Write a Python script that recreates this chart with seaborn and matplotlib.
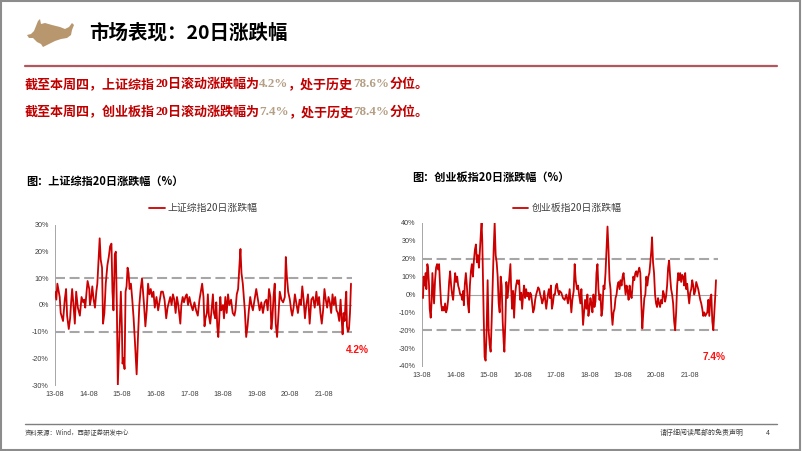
import numpy as np
import pandas as pd
import matplotlib
matplotlib.use("Agg")
import matplotlib.pyplot as plt
from matplotlib.patches import Polygon, Rectangle
from matplotlib.lines import Line2D
import seaborn as sns

# ---------------- data ----------------
sh_t = [2013.58, 2013.62, 2013.65, 2013.69, 2013.72, 2013.75, 2013.82, 2013.87, 2013.91, 2013.94,
        2013.99, 2014.03, 2014.06, 2014.09, 2014.13, 2014.17, 2014.21, 2014.26, 2014.32, 2014.37,
        2014.42, 2014.45, 2014.48, 2014.52, 2014.55, 2014.60, 2014.62, 2014.66, 2014.69, 2014.73,
        2014.77, 2014.81, 2014.84, 2014.88, 2014.91, 2014.94, 2014.98, 2015.01, 2015.05, 2015.09,
        2015.14, 2015.18, 2015.22, 2015.26, 2015.29, 2015.32, 2015.36, 2015.39, 2015.42, 2015.45,
        2015.48, 2015.51, 2015.54, 2015.57, 2015.59, 2015.62, 2015.65, 2015.68, 2015.71, 2015.74,
        2015.77, 2015.80, 2015.84, 2015.88, 2015.92, 2015.96, 2016.01, 2016.05, 2016.09, 2016.13,
        2016.17, 2016.20, 2016.23, 2016.27, 2016.31, 2016.35, 2016.39, 2016.43, 2016.47, 2016.51,
        2016.55, 2016.60, 2016.65, 2016.70, 2016.74, 2016.79, 2016.84, 2016.89, 2016.93, 2016.97,
        2017.01, 2017.05, 2017.09, 2017.13, 2017.17, 2017.21, 2017.25, 2017.31, 2017.34, 2017.38,
        2017.42, 2017.46, 2017.50, 2017.54, 2017.58, 2017.63, 2017.68, 2017.73, 2017.78, 2017.83,
        2017.88, 2017.96, 2018.00, 2018.03, 2018.06, 2018.10, 2018.13, 2018.16, 2018.20, 2018.24,
        2018.28, 2018.31, 2018.35, 2018.38, 2018.41, 2018.44, 2018.47, 2018.50, 2018.53, 2018.58,
        2018.61, 2018.65, 2018.69, 2018.73, 2018.77, 2018.82, 2018.87, 2018.92, 2018.95, 2018.99,
        2019.03, 2019.07, 2019.10, 2019.13, 2019.17, 2019.23, 2019.27, 2019.31, 2019.35, 2019.39,
        2019.43, 2019.47, 2019.52, 2019.57, 2019.62, 2019.67, 2019.72, 2019.77, 2019.82, 2019.87,
        2019.91, 2019.95, 2019.99, 2020.02, 2020.05, 2020.09, 2020.12, 2020.15, 2020.19, 2020.23,
        2020.27, 2020.32, 2020.37, 2020.42, 2020.45, 2020.48, 2020.52, 2020.57, 2020.61, 2020.64,
        2020.68, 2020.72, 2020.76, 2020.81, 2020.86, 2020.90, 2020.94, 2020.98, 2021.02, 2021.06,
        2021.11, 2021.16, 2021.21, 2021.26, 2021.31, 2021.36, 2021.40, 2021.44, 2021.48, 2021.52,
        2021.56, 2021.60, 2021.64, 2021.68, 2021.72, 2021.76, 2021.80, 2021.84, 2021.88, 2021.92,
        2021.96, 2022.00, 2022.04, 2022.08, 2022.11, 2022.14, 2022.17, 2022.20, 2022.23, 2022.25,
        2022.27, 2022.30, 2022.33, 2022.36, 2022.39]
sh_v = [5, 2, 8, 5, 3, -3, -6, 2, 6, -4,
        -9, -5, 1, 6, 0, -7, 5, -1, -4, 3,
        1, 2, -1, 5, 9, 6, 0, 3, 7, 2,
        -1, 5, 8, 18, 25, 17, 14, -7, -3, 8,
        15, 18, 22, 23, 5, -2, 19, 20, 0, -30,
        -18, -5, 5, -8, -22, -20, -24, 5, 7, 14,
        12, 6, 8, 2, -5, -14, -26, -12, 0, 6,
        10, 5, 0, -8, -2, 8, 4, 6, 3, 5,
        -1, 3, -2, 2, 5, 5, 2, -5, -1, 1,
        3, 0, 4, 2, -3, 3, 0, -7, 0, 3,
        1, 3, 4, 0, 3, 0, -2, 1, -2, -4,
        2, 8, 3, -8, -5, -3, 4, -4, -7, -2,
        4, -3, -5, 1, -8, -12, -5, 3, -2, 0,
        -5, 3, -3, 4, 0, 2, -3, -4, -2, 4,
        6, 15, 21, 12, 8, -2, -12, -8, -2, 3,
        0, -2, 2, 6, 2, -2, 1, -3, 1, 2,
        -2, 6, 3, -9, -5, 4, 8, -7, -12, -4,
        5, 2, 1, 3, 18, 11, 5, 2, -2, -4,
        -1, 4, 1, -3, 2, 0, 7, 2, -5, 0,
        4, -7, 2, 3, -1, 5, 0, 3, -3, -7,
        -2, 6, 2, -1, 3, 1, -3, 4, 0, 3,
        -2, -3, -6, 2, -5, -11, -3, -6, 2, 5,
        -8, -10, -9, -3, 8]

cy_t = [2013.61, 2013.63, 2013.66, 2013.69, 2013.71, 2013.74, 2013.76, 2013.79, 2013.81, 2013.84,
        2013.87, 2013.89, 2013.91, 2013.94, 2013.97, 2014.00, 2014.03, 2014.06, 2014.09, 2014.12,
        2014.15, 2014.18, 2014.21, 2014.24, 2014.27, 2014.30, 2014.33, 2014.36, 2014.39, 2014.42,
        2014.45, 2014.48, 2014.51, 2014.54, 2014.57, 2014.60, 2014.63, 2014.66, 2014.69, 2014.72,
        2014.75, 2014.78, 2014.81, 2014.83, 2014.86, 2014.89, 2014.92, 2014.95, 2014.98, 2015.01,
        2015.04, 2015.07, 2015.10, 2015.13, 2015.16, 2015.19, 2015.22, 2015.25, 2015.28, 2015.31,
        2015.34, 2015.36, 2015.38, 2015.40, 2015.42, 2015.45, 2015.48, 2015.51, 2015.54, 2015.57,
        2015.60, 2015.63, 2015.66, 2015.69, 2015.72, 2015.75, 2015.78, 2015.81, 2015.84, 2015.87,
        2015.90, 2015.93, 2015.96, 2015.99, 2016.02, 2016.04, 2016.07, 2016.10, 2016.13, 2016.16,
        2016.19, 2016.22, 2016.24, 2016.27, 2016.30, 2016.33, 2016.36, 2016.39, 2016.42, 2016.45,
        2016.48, 2016.51, 2016.54, 2016.57, 2016.60, 2016.63, 2016.66, 2016.69, 2016.72, 2016.75,
        2016.78, 2016.81, 2016.84, 2016.87, 2016.90, 2016.93, 2016.96, 2016.99, 2017.02, 2017.05,
        2017.08, 2017.11, 2017.14, 2017.17, 2017.20, 2017.23, 2017.26, 2017.29, 2017.31, 2017.34,
        2017.37, 2017.40, 2017.43, 2017.46, 2017.49, 2017.52, 2017.55, 2017.58, 2017.61, 2017.64,
        2017.67, 2017.69, 2017.74, 2017.79, 2017.84, 2017.89, 2017.94, 2017.99, 2018.04, 2018.07,
        2018.11, 2018.14, 2018.17, 2018.21, 2018.24, 2018.27, 2018.31, 2018.34, 2018.39, 2018.42,
        2018.45, 2018.49, 2018.52, 2018.55, 2018.58, 2018.61, 2018.64, 2018.67, 2018.70, 2018.73,
        2018.76, 2018.79, 2018.82, 2018.85, 2018.88, 2018.91, 2018.94, 2018.97, 2019.00, 2019.03,
        2019.06, 2019.09, 2019.12, 2019.15, 2019.18, 2019.21, 2019.24, 2019.27, 2019.30, 2019.33,
        2019.36, 2019.39, 2019.42, 2019.45, 2019.48, 2019.51, 2019.54, 2019.57, 2019.60, 2019.63,
        2019.66, 2019.69, 2019.72, 2019.75, 2019.78, 2019.81, 2019.84, 2019.87, 2019.89, 2019.92,
        2019.95, 2019.98, 2020.01, 2020.04, 2020.07, 2020.10, 2020.13, 2020.16, 2020.19, 2020.22,
        2020.25, 2020.28, 2020.31, 2020.34, 2020.37, 2020.40, 2020.43, 2020.45, 2020.48, 2020.51,
        2020.54, 2020.57, 2020.60, 2020.63, 2020.66, 2020.69, 2020.72, 2020.75, 2020.78, 2020.81,
        2020.84, 2020.87, 2020.90, 2020.93, 2020.96, 2020.99, 2021.02, 2021.05, 2021.08, 2021.11,
        2021.14, 2021.17, 2021.20, 2021.23, 2021.26, 2021.29, 2021.32, 2021.35, 2021.38, 2021.41,
        2021.44, 2021.47, 2021.50, 2021.53, 2021.56, 2021.59, 2021.62, 2021.65, 2021.68, 2021.71,
        2021.74, 2021.77, 2021.80, 2021.83, 2021.86, 2021.89, 2021.92, 2021.95, 2021.98, 2022.01,
        2022.04, 2022.07, 2022.10, 2022.13, 2022.16, 2022.19, 2022.22, 2022.25, 2022.28, 2022.31,
        2022.34, 2022.36]
cy_v = [-2, 10, 5, 12, 3, 17, 15, 5, -8, -13,
        -3, 12, 5, -5, 8, 15, 17, 14, 17, 5,
        -5, -9, -7, -9, -5, -10, -8, -3, 7, 13,
        5, 0, -3, 5, 12, 7, 10, 5, 3, 0,
        0, -3, 2, -6, 6, 12, 5, -5, -10, 5,
        13, 17, 10, 19, 25, 28, 18, 22, 15, 25,
        35, 40, 30, 10, -10, -35, -37, -20, 8, -20,
        -28, -32, -15, 5, 25, 40, 22, 18, 10, -5,
        -10, 10, 5, -15, -27, -32, -15, 7, -2, 3,
        10, 17, 5, -8, 2, -13, 0, 5, 8, 6,
        8, -3, 1, -8, 0, 5, -2, 3, -1, 1,
        -3, 1, 0, -5, -10, -8, -3, 0, 2, 4,
        3, 0, -2, -5, -3, 2, -3, -8, -5, 0,
        3, -2, 5, -8, -5, 0, 0, 5, 6, 2,
        0, 2, 1, -2, -3, 0, -5, 3, -10, -3,
        2, 17, 8, 3, 5, 0, -5, 3, -17, -10,
        -3, -8, 0, -12, -8, -2, -5, -10, 0, -7,
        -4, 12, 17, 3, -3, 0, -12, -8, 5, 3,
        12, 25, 38, 25, 8, 3, -10, -17, -10, -8,
        -2, 0, 5, 7, 3, 8, 5, 10, 12, 6,
        0, 5, 2, -3, 5, 0, -2, 5, 10, 8,
        12, 13, 10, 13, 15, 12, -5, -19, -10, -2,
        0, 10, 5, 10, 12, 18, 25, 32, 18, 12,
        0, -5, -7, -2, -5, -7, -3, -5, 2, 0,
        -4, -1, 5, 15, 19, 10, 3, 0, -5, -15,
        -20, -10, 5, 12, 8, 12, 7, 11, 10, 5,
        12, 3, 6, 0, -5, 1, 3, 8, 5, 0,
        2, 7, 5, 3, 0, -3, -5, -8, -12, -10,
        -12, -11, -10, -3, -12, -2, 0, -15, -20, -10,
        0, 8]

tick_years = [2013.58, 2014.58, 2015.58, 2016.58, 2017.58, 2018.58, 2019.58, 2020.58, 2021.58]
tick_labels = ["13-08", "14-08", "15-08", "16-08", "17-08", "18-08", "19-08", "20-08", "21-08"]
sh_yticks = [-30, -20, -10, 0, 10, 20, 30]
cy_yticks = [-40, -30, -20, -10, 0, 10, 20, 30, 40]
sh_band = [-10, 10]
cy_band = [-20, 20]
sh_name = "上证综指20日涨跌幅"
cy_name = "创业板指20日涨跌幅"
sh_last, cy_last = "4.2%", "7.4%"
sh_pct, cy_pct = "78.6%", "78.4%"

# ---------------- figure ----------------
sns.set_style("white")
plt.rcParams['font.family'] = ['Noto Sans CJK SC', 'DejaVu Sans']
plt.rcParams['axes.unicode_minus'] = False

W, H = 802, 451
fig = plt.figure(figsize=(W / 100, H / 100), dpi=100)
fig.patch.set_facecolor("white")

def fx(x):
    return x / W

def fy(y):
    return 1 - y / H

RED = "#C00000"
GREY_TXT = "#404040"
DASH = "#A6A6A6"
TAN = "#B59F84"

# border
fig.add_artist(Rectangle((0.001, 0.002), 0.997, 0.995, transform=fig.transFigure,
                         fill=False, edgecolor="#8C8C8C", lw=1.5))

# bull icon
bull = [(27, 35), (31, 34), (34, 31), (36, 26), (38, 21), (40, 19), (41, 24), (45, 23), (52, 25),
        (60, 27), (65, 29), (69, 27), (72, 23), (74, 25), (72, 30), (71, 35), (67, 38), (61, 39),
        (55, 41), (49, 44), (43, 47), (41, 44), (37, 42), (33, 38), (29, 38)]
fig.add_artist(Polygon([(fx(a), fy(b)) for a, b in bull], closed=True, transform=fig.transFigure,
                       facecolor="#B8966E", edgecolor="none"))

fig.text(fx(89), fy(33), "市场表现：20日涨跌幅", fontsize=14, weight="bold", color="black",
         ha="left", va="center")

# red divider
fig.add_artist(Line2D([fx(25), fx(777)], [fy(66), fy(66)], transform=fig.transFigure,
                      color="#B5565C", lw=1.6))

renderer = fig.canvas.get_renderer()

def runs(parts, x0, y0, size):
    x = x0
    for s, fam, col in parts:
        t = fig.text(fx(x), fy(y0), s, fontsize=size, family=fam, color=col, weight="bold",
                     ha="left", va="center")
        x += t.get_window_extent(renderer=renderer).width

CJK = ['Noto Sans CJK SC', 'DejaVu Sans']
SER = ['Liberation Serif', 'DejaVu Serif']
runs([("截至本周四，上证综指", CJK, RED), ("20", SER, RED), ("日滚动涨跌幅为", CJK, RED),
      (sh_last, SER, TAN), ("，处于历史", CJK, RED), (sh_pct, SER, TAN), ("分位。", CJK, RED)],
     25, 84, 9.4)
runs([("截至本周四，创业板指", CJK, RED), ("20", SER, RED), ("日滚动涨跌幅为", CJK, RED),
      (cy_last, SER, TAN), ("，处于历史", CJK, RED), (cy_pct, SER, TAN), ("分位。", CJK, RED)],
     25, 112, 9.4)

# chart titles
fig.text(fx(26), fy(181), "图：" + sh_name + "（%）", fontsize=8, weight="bold", color="black",
         ha="left", va="center")
fig.text(fx(412), fy(177), "图：" + cy_name + "（%）", fontsize=8, weight="bold", color="black",
         ha="left", va="center")

# ---------------- axes ----------------
ax1 = fig.add_axes([fx(55), fy(385), (352 - 55) / W, 160 / H])
ax2 = fig.add_axes([fx(422), fy(366), (718 - 422) / W, 143 / H])

def style(ax, t, v, name, yticks, band):
    ax.axhline(0, color="#A6A6A6", lw=0.8, zorder=1)
    for b in band:
        ax.axhline(b, color=DASH, lw=1.5, dashes=(4.8, 2.2), zorder=1)
    sns.lineplot(x=t, y=v, ax=ax, color="#CC0000", lw=1.3, label=name, zorder=3)
    ax.set_xlim(2013.58, 2022.42)
    ax.set_ylim(yticks[0], yticks[-1])
    ax.set_yticks(yticks)
    ax.set_yticklabels([f"{y}%" for y in yticks], family="Liberation Sans", fontsize=5.2,
                       color=GREY_TXT)
    ax.set_xticks(tick_years)
    ax.set_xticklabels(tick_labels, family="Liberation Sans", fontsize=5.2, color=GREY_TXT)
    ax.tick_params(axis="x", length=0, pad=4)
    ax.tick_params(axis="y", length=2.5, width=0.6, color="#A6A6A6", pad=2, direction="out")
    for s in ["top", "right", "bottom"]:
        ax.spines[s].set_visible(False)
    ax.spines["left"].set_color("#A6A6A6")
    ax.spines["left"].set_linewidth(0.7)
    ax.set_xlabel("")
    ax.set_ylabel("")
    ax.set_facecolor("none")
    ax.grid(False)

style(ax1, sh_t, sh_v, sh_name, sh_yticks, sh_band)
style(ax2, cy_t, cy_v, cy_name, cy_yticks, cy_band)

ax1.legend(loc="center", bbox_to_anchor=(0.5, 1 + 17 / 160), frameon=False, fontsize=7.1,
           handlelength=1.6, handletextpad=0.3, labelcolor=GREY_TXT)
ax2.legend(loc="center", bbox_to_anchor=(0.49, 1 + 15 / 143), frameon=False, fontsize=7.1,
           handlelength=1.6, handletextpad=0.3, labelcolor=GREY_TXT)

fig.text(fx(357), fy(350), sh_last, fontsize=7.3, weight="bold", color="#FF1010",
         family="Liberation Sans", ha="center", va="center")
fig.text(fx(714), fy(357), cy_last, fontsize=7.3, weight="bold", color="#FF1010",
         family="Liberation Sans", ha="center", va="center")

# footer
fig.add_artist(Line2D([fx(25), fx(777)], [fy(424), fy(424)], transform=fig.transFigure,
                      color="#7F7F7F", lw=1.0))
fig.text(fx(25), fy(433), "资料来源：Wind，西部证券研发中心", fontsize=4.6, color=GREY_TXT,
         ha="left", va="center")
fig.text(fx(660), fy(433), "请仔细阅读尾部的免责声明", fontsize=5, color=GREY_TXT,
         ha="left", va="center")
fig.text(fx(768), fy(433), "4", fontsize=5, color=GREY_TXT, ha="center", va="center")

fig.savefig("out.png", dpi=100)
